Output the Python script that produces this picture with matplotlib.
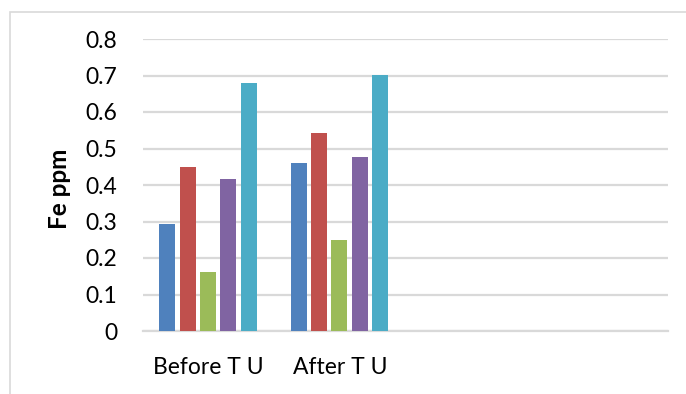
import numpy as np
import matplotlib.pyplot as plt
from matplotlib.patches import Rectangle

# Fe readings per sample, before and after treatment
categories = ['Before T U', 'After T U', '', '']
series_1 = [0.292, 0.461]
series_2 = [0.450, 0.543]
series_3 = [0.161, 0.248]
series_4 = [0.417, 0.478]
series_5 = [0.680, 0.702]
yticks = [0, 0.1, 0.2, 0.3, 0.4, 0.5, 0.6, 0.7, 0.8]
ytick_labels = ['0', '0.1', '0.2', '0.3', '0.4', '0.5', '0.6', '0.7', '0.8']

colors = ['#4F81BD', '#C0504D', '#9BBB59', '#8064A2', '#4BACC6']
all_series = [series_1, series_2, series_3, series_4, series_5]

plt.rcParams['font.family'] = ['Lato', 'DejaVu Sans']

fig = plt.figure(figsize=(6.86, 3.94), dpi=100)
# light chart-area border (cut off on the right and bottom)
fig.patches.append(Rectangle((10 / 686, -0.1), 1.2, 1 - 12 / 394 + 0.1,
                             transform=fig.transFigure, fill=False,
                             edgecolor='#D9D9D9', linewidth=1.2))

ax = fig.add_axes([143 / 686, 1 - 331 / 394, 525 / 686, 292 / 394])

index = np.arange(len(series_1))
slot = 0.155
bar_width = 0.122
for i, (vals, col) in enumerate(zip(all_series, colors)):
    ax.bar(index - 0.005 + (i - 2) * slot, vals, bar_width, color=col, zorder=3)

ax.set_xlim(-0.5, len(categories) - 0.5)
ax.set_ylim(0, 0.8)
ax.set_yticks(yticks)
ax.set_yticklabels(ytick_labels)
ax.set_xticks(np.arange(len(categories)))
ax.set_xticklabels(categories)
ax.tick_params(axis='y', length=0, pad=18.7, labelsize=16.5)
ax.tick_params(axis='x', length=0, pad=19, labelsize=16.5)
ax.grid(axis='y', color='#D9D9D9', linewidth=1.6, zorder=0)
for side in ['top', 'right', 'left']:
    ax.spines[side].set_visible(False)
ax.spines['bottom'].set_color('#D9D9D9')
ax.spines['bottom'].set_linewidth(1.6)
ax.set_ylabel('Fe ppm', fontsize=17.5, fontweight='bold')
ax.yaxis.set_label_coords(-0.138, 0.488)

fig.savefig('out.png', dpi=100)
